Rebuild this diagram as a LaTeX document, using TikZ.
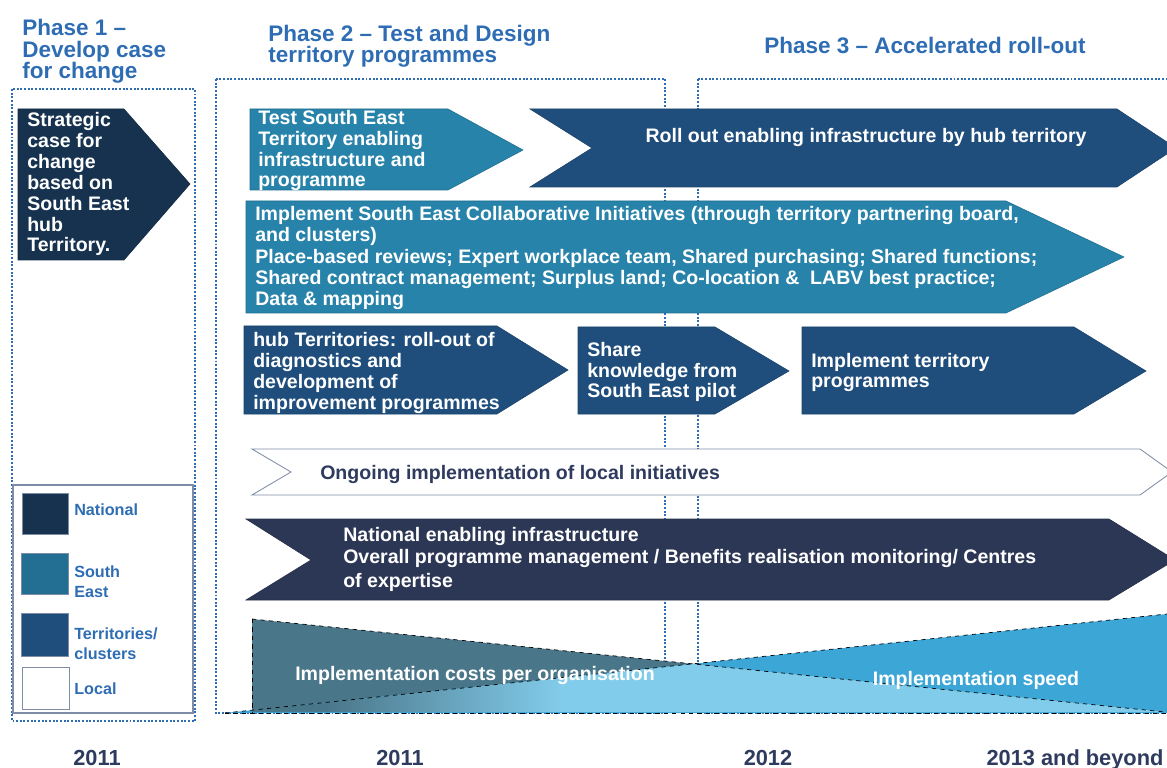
\documentclass[tikz,border=0pt]{standalone}
\usepackage{fontspec}
\setmainfont{Liberation Sans}
\usetikzlibrary{positioning}

\definecolor{phaseblue}{HTML}{2E6DB4}
\definecolor{yearnavy}{HTML}{2E3B5E}
\definecolor{natblue}{HTML}{16324F}
\definecolor{seblue}{HTML}{2783AA}
\definecolor{selegend}{HTML}{236F94}
\definecolor{terrblue}{HTML}{1F4E7C}
\definecolor{infranavy}{HTML}{2C3755}
\definecolor{legendgrey}{HTML}{7F8CA6}
\definecolor{costteal}{HTML}{4A7689}
\definecolor{speedblue}{HTML}{3CA6D6}
\definecolor{lightsky}{HTML}{82CCEB}

\pgfdeclarehorizontalshading{costfade}{100bp}{color(0bp)=(costteal); color(29bp)=(costteal); color(42bp)=(lightsky); color(100bp)=(lightsky)}

\begin{document}
\begin{tikzpicture}[
    x=0.025cm, y=-0.025cm,
    phasehead/.style={anchor=base west, inner sep=0pt, align=left, text=phaseblue,
                      font=\fontsize{16}{15.3}\selectfont\bfseries},
    boxtext/.style={anchor=base west, inner sep=0pt, align=left, text=white,
                    font=\fontsize{13.9}{14.9}\selectfont\bfseries},
    legendlbl/.style={anchor=base west, inner sep=0pt, align=left, text=phaseblue,
                      font=\fontsize{11.5}{14.2}\selectfont\bfseries},
    yearlbl/.style={anchor=base, inner sep=0pt, text=yearnavy,
                    font=\fontsize{15.5}{18}\selectfont\bfseries},
    phaseframe/.style={draw=phaseblue, line width=1.4pt, dash pattern=on 1.4pt off 1.2pt},
    swatch/.style={draw=legendgrey, line width=0.6pt},
    natshape/.style={fill=natblue, draw=natblue!85!black, line width=0.4pt},
    seshape/.style={fill=seblue, draw=seblue!85!black, line width=0.4pt},
    terrshape/.style={fill=terrblue, draw=terrblue!85!black, line width=0.4pt},
    costline/.style={draw=black, dashed, line width=0.5pt}
]
  \useasboundingbox (0,0) rectangle (1167,768);
  \clip (0,0) rectangle (1167,768);

  \draw[phaseframe] (12,89) rectangle (195,721);
  \draw[phaseframe] (216,79) rectangle (665,713);
  \draw[phaseframe] (698,79) rectangle (1200,713);

  \node[phasehead] (ph1) at (22,79) {Phase 1 –\\Develop case\\for change};
  \node[phasehead, font=\fontsize{16}{15.6}\selectfont\bfseries] (ph2) at (268,63)
    {Phase 2 – Test and Design\\territory programmes};
  \node[phasehead] (ph3) at (764,54) {Phase 3 – Accelerated roll-out};

  \filldraw[natshape] (18,109) -- (124,109) -- (190,184) -- (124,260) -- (18,260) -- cycle;
  \node[boxtext] (stratcase) at (27,252)
    {Strategic\\case for\\change\\based on\\South East\\hub\\Territory.};

  \filldraw[seshape] (250,109) -- (448,109) -- (523,150) -- (448,190) -- (250,190) -- cycle;
  \node[boxtext] (testse) at (258,187)
    {Test South East\\Territory enabling\\infrastructure and\\programme};

  \filldraw[terrshape] (530,109) -- (1117,109) -- (1176,148) -- (1117,187) -- (530,187) -- (592,148) -- cycle;
  \node[boxtext, anchor=base] (rollout) at (866,143) {Roll out enabling infrastructure by hub territory};

  \filldraw[seshape] (246,201) -- (1006,201) -- (1124,257) -- (1006,313) -- (246,313) -- cycle;
  \node[boxtext, font=\fontsize{13.9}{15.2}\selectfont\bfseries] (collab) at (255,306)
    {Implement South East Collaborative Initiatives (through territory partnering board,\\
     and clusters)\\
     Place-based reviews; Expert workplace team, Shared purchasing; Shared functions;\\
     Shared contract management; Surplus land; Co-location \&\ \ LABV best practice;\\
     Data \& mapping};

  \filldraw[terrshape] (244,326) -- (497,326) -- (568,370) -- (497,414) -- (244,414) -- cycle;
  \node[boxtext] (hubterr) at (253,409)
    {hub Territories: roll-out of\\diagnostics and\\development of\\improvement programmes};

  \filldraw[terrshape] (578,327) -- (715,327) -- (789,371) -- (715,414) -- (578,414) -- cycle;
  \node[boxtext] (shareknow) at (587,398) {Share\\knowledge from\\South East pilot};

  \filldraw[terrshape] (802,327) -- (1074,327) -- (1146,371) -- (1074,414) -- (802,414) -- cycle;
  \node[boxtext] (impterr) at (811,388) {Implement territory\\programmes};

  \filldraw[fill=white, draw=legendgrey, line width=0.6pt]
    (252,449) -- (1140,449) -- (1172,472) -- (1140,495) -- (252,495) -- (291,472) -- cycle;
  \node[boxtext, text=yearnavy] (ongoing) at (320,479) {Ongoing implementation of local initiatives};

  \filldraw[fill=infranavy, draw=infranavy!85!black, line width=0.4pt]
    (246,519) -- (1109,519) -- (1175,560) -- (1109,600) -- (246,600) -- (311,560) -- cycle;
  \node[boxtext, font=\fontsize{13.9}{15.6}\selectfont\bfseries] (natinfra) at (343,587)
    {National enabling infrastructure\\
     Overall programme management / Benefits realisation monitoring/ Centres\\[1.4pt]
     of expertise};

  \coordinate (ctop) at (252,619);
  \coordinate (cend) at (1165,712);
  \coordinate (cbase) at (252,712);
  \coordinate (sstart) at (225,713);
  \coordinate (stop) at (1167,614);
  \coordinate (sbase) at (1167,713);
  \coordinate (cross) at (intersection of ctop--cend and sstart--stop);
  \coordinate (lowleft) at (intersection of ctop--cbase and sstart--stop);

  \fill[costteal] (ctop) -- (cend) -- (cbase) -- cycle;
  \fill[speedblue] (sstart) -- (stop) -- (sbase) -- cycle;
  \shade[shading=costfade] (lowleft) -- (cross) -- (cend) -- (cbase) -- cycle;
  \draw[costline] (ctop) -- (cend);
  \draw[costline] (ctop) -- (cbase);
  \draw[costline] (sstart) -- (stop);
  \draw[costline] (sstart) -- (sbase);

  \node[boxtext, anchor=base] (costlbl) at (475,680) {Implementation costs per organisation};
  \node[boxtext, anchor=base] (speedlbl) at (976,685) {Implementation speed};

  \draw[draw=legendgrey, line width=0.8pt] (13,485) rectangle (193,713);
  \filldraw[swatch, fill=natblue] (22,493) rectangle (68,534);
  \filldraw[swatch, fill=selegend] (21,553) rectangle (68,594);
  \filldraw[swatch, fill=terrblue] (21,613) rectangle (68,656);
  \filldraw[swatch, fill=white] (22,667) rectangle (69,709);
  \node[legendlbl] (legnat) at (74,515) {National};
  \node[legendlbl] (legse) at (74,597) {South\\East};
  \node[legendlbl] (legterr) at (74,659) {Territories/\\clusters};
  \node[legendlbl] (legloc) at (74,694) {Local};

  \node[yearlbl] (yr1) at (97,765) {2011};
  \node[yearlbl] (yr2) at (400,765) {2011};
  \node[yearlbl] (yr3) at (768,765) {2012};
  \node[yearlbl] (yr4) at (1075,765) {2013 and beyond};
\end{tikzpicture}
\end{document}
